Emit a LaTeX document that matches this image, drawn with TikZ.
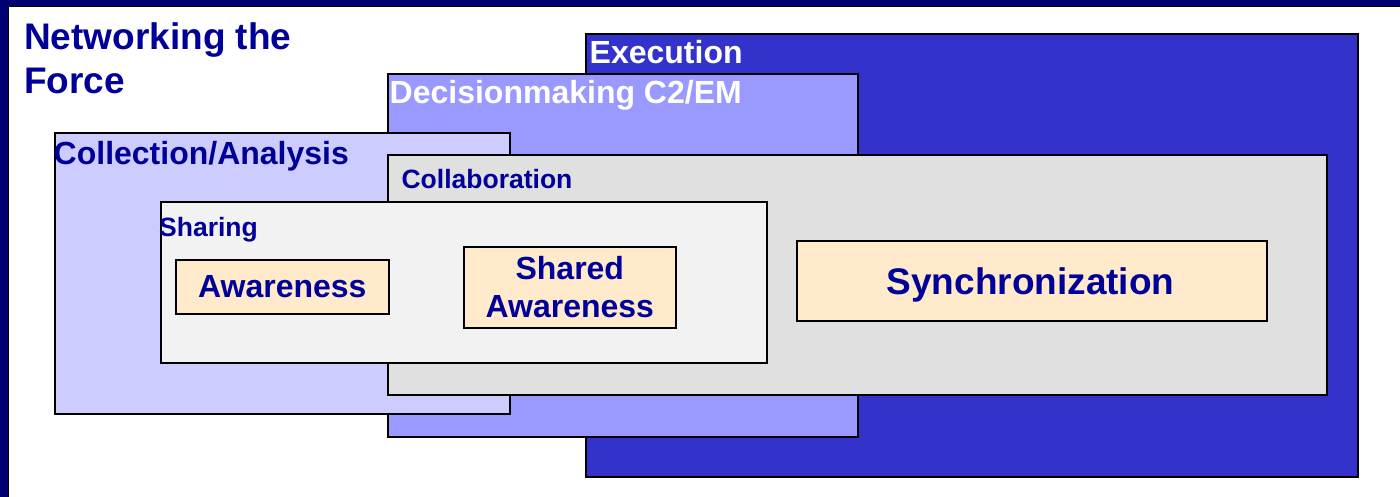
\documentclass[tikz,border=0pt]{standalone}
\usepackage{fontspec}
\setmainfont{Liberation Sans}
\definecolor{frameC}{RGB}{0,0,112}
\definecolor{txtC}{RGB}{0,0,153}
\definecolor{execC}{RGB}{51,51,204}
\definecolor{decC}{RGB}{153,153,255}
\definecolor{collC}{RGB}{204,204,255}
\definecolor{collabC}{RGB}{224,224,224}
\definecolor{shareC}{RGB}{242,242,242}
\definecolor{beigeC}{RGB}{255,235,204}
\tikzset{
  panel/.style={draw=black, line width=1.6pt, anchor=north west, inner sep=0pt},
  heading/.style={anchor=base west, inner sep=0pt, font=\bfseries\fontsize{32}{38}\selectfont},
  smallhead/.style={anchor=base west, inner sep=0pt, text=txtC, font=\bfseries\fontsize{26.5}{31}\selectfont},
  beigebox/.style={panel, fill=beigeC, text=txtC, align=center},
}
\begin{document}
\begin{tikzpicture}[x=1pt,y=-1pt]
\useasboundingbox (0,0) rectangle (1400,497);
\fill[white] (0,0) rectangle (1400,497);
% frame
\fill[frameC] (0,0) rectangle (1400,6);
\fill[frameC] (0,0) rectangle (8,497);
\draw[black, line width=1.4pt] (8.4,497) -- (8.4,6.4) -- (1400,6.4);
% title
\node[anchor=base west, inner sep=0pt, align=left, text=txtC,
      font=\bfseries\fontsize{37}{44}\selectfont] (title) at (24,94) {Networking the\\Force};
% panels
\node[panel, fill=execC, minimum width=772pt, minimum height=443pt] (exec) at (585,33) {};
\node[heading, text=white] (execT) at (589.5,63.3) {Execution};
\node[panel, fill=decC, minimum width=470pt, minimum height=363pt] (dec) at (387,73) {};
\node[heading, text=white] (decT) at (389.5,103.3) {Decisionmaking C2/EM};
\node[panel, fill=collC, minimum width=455pt, minimum height=281pt] (coll) at (54,132) {};
\node[heading, text=txtC] (collT) at (53.5,165) {Collection/Analysis};
\node[panel, fill=collabC, minimum width=939pt, minimum height=240pt] (collab) at (387,154) {};
\node[smallhead] (collabT) at (401.4,188.3) {Collaboration};
\node[panel, fill=shareC, minimum width=606pt, minimum height=161pt] (share) at (160,201) {};
\node[smallhead] (shareT) at (159,236.7) {Sharing};
% inner boxes
\node[beigebox, minimum width=213pt, minimum height=54pt] (aw) at (175,259) {};
\node[text=txtC, inner sep=0pt, font=\bfseries\fontsize{32}{37}\selectfont] (awT) at (aw.center) {Awareness};
\node[beigebox, minimum width=212pt, minimum height=81pt] (saw) at (463,246) {};
\node[text=txtC, inner sep=0pt, align=center, font=\bfseries\fontsize{32}{38.5}\selectfont] (sawT) at (saw.center) {Shared\\Awareness};
\node[beigebox, minimum width=470pt, minimum height=80pt] (sync) at (796,240) {};
\node[anchor=base, inner sep=0pt, text=txtC, font=\bfseries\fontsize{37}{44}\selectfont] (syncT) at (1030.5,294) {Synchronization};
\end{tikzpicture}
\end{document}
